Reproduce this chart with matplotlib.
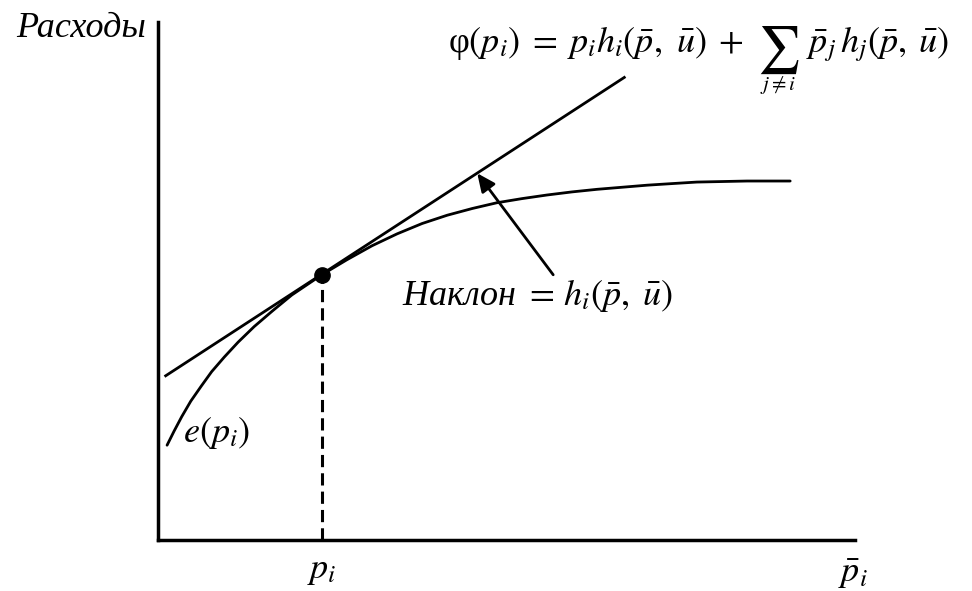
import matplotlib
matplotlib.use("Agg")
import matplotlib.pyplot as plt

plt.rcParams['mathtext.fontset'] = 'stix'
plt.rcParams['font.family'] = ['Liberation Serif', 'DejaVu Serif']

# expenditure function e(p_i)
price = [0.13, 0.23, 0.34, 0.47, 0.62, 0.77, 0.95, 1.15, 1.38, 1.64, 1.92,
         2.35, 2.71, 3.07, 3.43, 3.79, 4.15, 4.51, 4.86, 5.22, 5.58, 5.94,
         6.30, 6.66, 7.02, 7.37, 7.73, 8.09, 8.45, 9.07]
expend = [1.83, 2.10, 2.38, 2.68, 2.97, 3.25, 3.53, 3.82, 4.12, 4.42, 4.73,
          5.12, 5.41, 5.68, 5.91, 6.11, 6.27, 6.40, 6.51, 6.59, 6.66, 6.72,
          6.77, 6.81, 6.85, 6.88, 6.91, 6.92, 6.93, 6.93]

# tangent line phi(p_i)
tan_x = [0.11, 6.69]
tan_y = [3.17, 8.93]

# point of tangency
p_i = 2.35
e_i = 5.12

# slope arrow: tail and head
arrow_tail = (5.67, 5.12)
arrow_head = (4.58, 7.08)

fig = plt.figure(figsize=(9.72, 5.91), dpi=100)
ax = fig.add_axes([158 / 972, 51 / 591, 697 / 972, 518 / 591])
ax.set_xlim(0, 10)
ax.set_ylim(0, 10)
for side in ['top', 'right']:
    ax.spines[side].set_visible(False)
for side in ['left', 'bottom']:
    ax.spines[side].set_linewidth(2.5)
ax.set_xticks([])
ax.set_yticks([])

ax.plot(price, expend, color='black', lw=2.0, solid_capstyle='round',
        solid_joinstyle='round')
ax.plot(tan_x, tan_y, color='black', lw=2.0)
ax.plot([p_i, p_i], [0, e_i], color='black', lw=2.2, ls=(0, (4, 2)))
ax.plot([p_i], [e_i], 'o', color='black', ms=11)

ax.annotate('', xy=arrow_head, xytext=arrow_tail,
            arrowprops=dict(arrowstyle='-|>,head_length=1.1,head_width=0.5',
                            color='black', lw=2.0, shrinkA=0, shrinkB=0))

txt = dict(color='black', clip_on=False)
ax.text(-0.17, 9.71, 'Расходы', ha='right', va='baseline', style='italic',
        fontsize=26, **txt)

# phi(p_i) = p_i h_i + sum over j != i
ax.text(4.16, 9.42, r'φ$(p_i)\;=\;p_i h_i(\bar{p},\ \bar{u})\;+$',
        ha='left', va='baseline', fontsize=26, **txt)
ax.text(8.90, 9.46, r'$\sum$', ha='center', va='center', fontsize=34, **txt)
ax.text(8.90, 8.78, r'$j\neq i$', ha='center', va='center', fontsize=15, **txt)
ax.text(9.30, 9.42, r'$\bar{p}_j\,h_j(\bar{p},\;\bar{u})$',
        ha='left', va='baseline', fontsize=26, **txt)

ax.text(3.50, 4.54, r'Наклон $=\,h_i(\bar{p},\;\bar{u})$', ha='left',
        va='baseline', style='italic', fontsize=26, **txt)
ax.text(0.36, 1.89, r'$e(p_i)$', ha='left', va='baseline', fontsize=26, **txt)
ax.text(p_i, -0.73, r'$p_i$', ha='center', va='baseline', fontsize=26, **txt)
ax.text(9.97, -0.82, r'$\bar{p}_i$', ha='center', va='baseline', fontsize=26,
        **txt)

fig.savefig('out.png', dpi=100, facecolor='white')
